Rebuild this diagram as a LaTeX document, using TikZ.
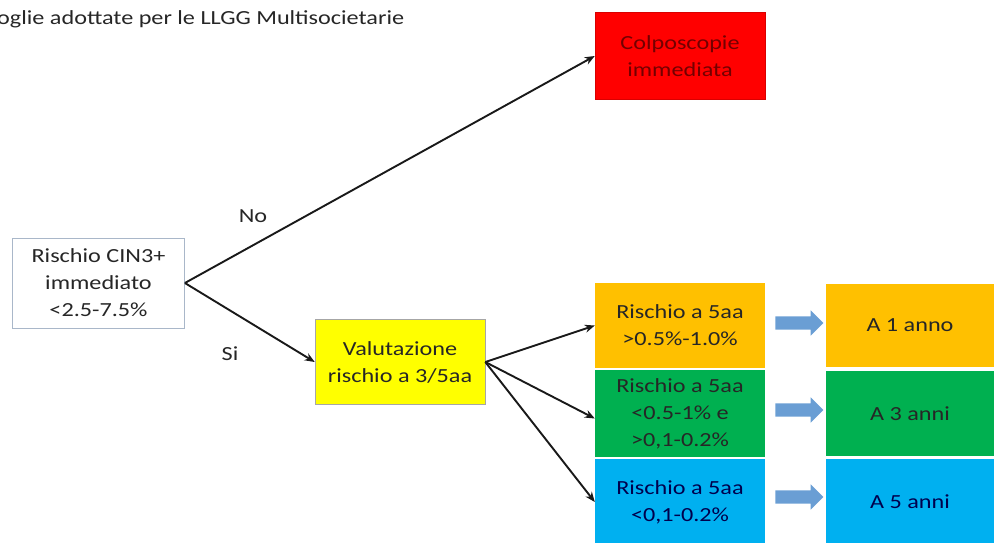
\documentclass[tikz,border=0pt]{standalone}
\usepackage{fontspec}
\setmainfont{Carlito}[FakeStretch=1.21]
\usetikzlibrary{arrows.meta,shapes.arrows}

\definecolor{boxorange}{HTML}{FFC000}
\definecolor{boxgreen}{HTML}{00B050}
\definecolor{boxblue}{HTML}{00B0F0}
\definecolor{boxyellow}{HTML}{FFFF00}
\definecolor{boxred}{HTML}{FF0000}
\definecolor{framegray}{HTML}{A9B7C9}
\definecolor{arrowblue}{HTML}{6A9ED4}

\tikzset{
  txt/.style={font=\fontsize{20}{27}\selectfont, text=black!85},
  riskbox/.style={txt, rectangle, align=center, inner sep=0pt,
    minimum width=170pt},
  flow/.style={-{Stealth[length=10pt,width=8pt]}, line width=1.9pt, black!90},
  blockarrow/.style={single arrow, fill=arrowblue, draw=none,
    minimum height=48pt, minimum width=25pt, inner xsep=0pt, inner ysep=6.5pt,
    single arrow head extend=6pt, single arrow tip angle=90}
}

\begin{document}
\begin{tikzpicture}[x=1pt,y=-1pt]
  \useasboundingbox (0,0) rectangle (994,543);
  \clip (0,0) rectangle (994,543);

  % heading
  \node[txt, anchor=base west, inner sep=0pt] (title) at (-3,25)
    {oglie adottate per le LLGG Multisocietarie};

  % starting box
  \node[riskbox, draw=framegray, line width=0.8pt, fill=white,
    minimum width=172pt, minimum height=90pt] (start) at (98.5,283)
    {Rischio CIN3+\\immediato\\<2.5-7.5\%};

  % immediate colposcopy
  \node[riskbox, fill=boxred, draw=boxred!85!black, line width=0.5pt,
    minimum height=87pt, text=boxred!45!black] (colpo) at (680,56)
    {Colposcopie\\immediata};

  % evaluation box
  \node[riskbox, fill=boxyellow, draw=black!35, line width=0.6pt,
    minimum height=85pt] (valut) at (400,362)
    {Valutazione\\rischio a 3/5aa};

  % five-year risk classes
  \node[riskbox, fill=boxorange, minimum height=85pt] (r1) at (680,325.5)
    {Rischio a 5aa\\>0.5\%-1.0\%};
  \node[riskbox, fill=boxgreen, minimum height=87pt] (r2) at (680,413.5)
    {Rischio a 5aa\\<0.5-1\% e\\>0,1-0.2\%};
  \node[riskbox, fill=boxblue, minimum height=86pt, text=blue!30!black] (r3) at (680,502)
    {Rischio a 5aa\\<0,1-0.2\%};

  % follow-up intervals
  \node[riskbox, fill=boxorange, minimum width=168pt, minimum height=83pt] (f1) at (910,325.5)
    {A 1 anno};
  \node[riskbox, fill=boxgreen, minimum width=168pt, minimum height=85pt] (f2) at (910,413.5)
    {A 3 anni};
  \node[riskbox, fill=boxblue, minimum width=168pt, minimum height=86pt, text=blue!30!black] (f3) at (910,502)
    {A 5 anni};

  % block arrows between classes and intervals
  \node[blockarrow] (b1) at (796,323) {};
  \node[blockarrow] (b2) at (796,410) {};
  \node[blockarrow] (b3) at (796,497) {};

  % decision connectors
  \coordinate (split) at (start.east);
  \draw[flow] (split) -- (colpo.west);
  \draw[flow] (split) -- (valut.west);
  \draw[flow] (valut.east) -- (r1.west);
  \draw[flow] (valut.east) -- ([yshift=-5pt]r2.west);
  \draw[flow] (valut.east) -- (r3.west);

  % branch labels
  \node[txt] (no) at (253,216) {No};
  \node[txt] (si) at (230,354) {Si};
\end{tikzpicture}
\end{document}
